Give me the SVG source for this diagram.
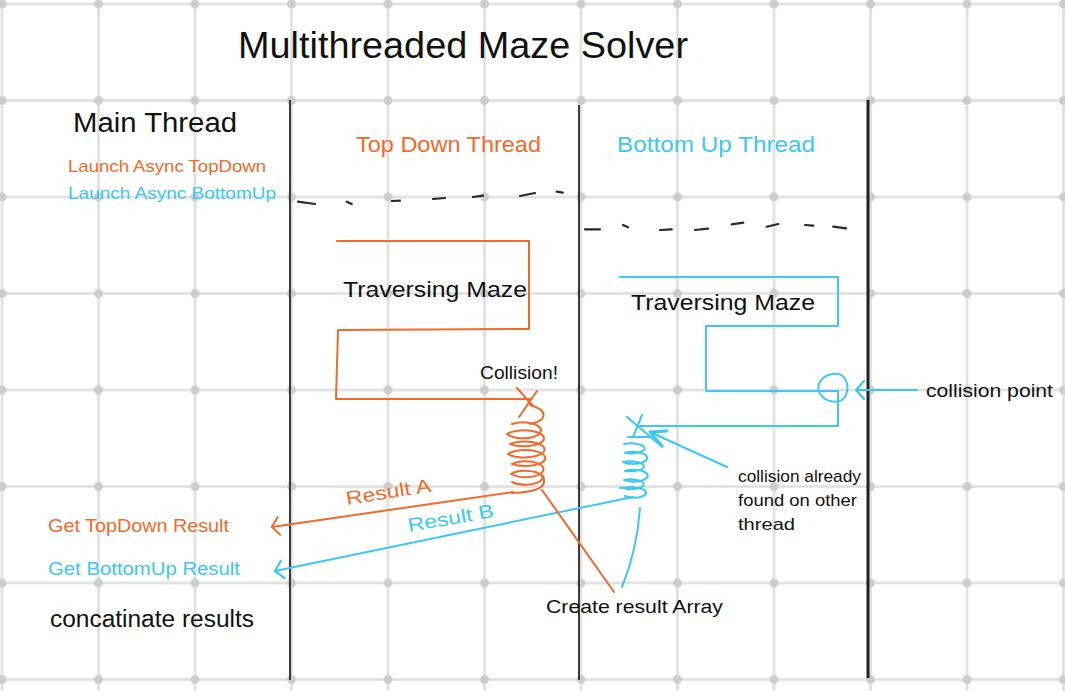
<svg xmlns="http://www.w3.org/2000/svg" width="1065" height="691" viewBox="0 0 1065 691">
<style>
.t{font-family:"Liberation Sans","DejaVu Sans",sans-serif;}
.k{fill:#111;}
.o{fill:#f26a2b;}
.c{fill:#3cc7f5;}
.so{stroke:#f26a2b;fill:none;stroke-width:2;stroke-linecap:round;stroke-linejoin:round;}
.sc{stroke:#3cc7f5;fill:none;stroke-width:2;stroke-linecap:round;stroke-linejoin:round;}
.th{stroke:#3a3a3a;stroke-width:2;}
.dash{stroke:#2a2a2a;stroke-width:2.2;stroke-linecap:round;fill:none;}
</style>
<defs>
<pattern id="grid" patternUnits="userSpaceOnUse" x="-46.25" y="-44.25" width="96.5" height="96.5">
<line x1="48.25" y1="0" x2="48.25" y2="96.5" stroke="#dedede" stroke-width="2.5"/>
<line x1="0" y1="48.25" x2="96.5" y2="48.25" stroke="#dedede" stroke-width="2.5"/>
<circle cx="48.25" cy="48.25" r="4.5" fill="#cdcdcd"/>
</pattern>
<marker id="arrO" markerUnits="userSpaceOnUse" orient="auto" markerWidth="30" markerHeight="30" refX="0" refY="0" viewBox="-20 -15 30 30" overflow="visible">
<path d="M-7,-9 L0,0 L-7,9" fill="none" stroke="#f26a2b" stroke-width="2" stroke-linecap="round" stroke-linejoin="round"/>
</marker>
<marker id="arrC" markerUnits="userSpaceOnUse" orient="auto" markerWidth="30" markerHeight="30" refX="0" refY="0" viewBox="-20 -15 30 30" overflow="visible">
<path d="M-8,-9 L0,0 L-8,9" fill="none" stroke="#3cc7f5" stroke-width="2.2" stroke-linecap="round" stroke-linejoin="round"/>
</marker>
<marker id="arrC3" markerUnits="userSpaceOnUse" orient="auto" markerWidth="40" markerHeight="40" refX="0" refY="0" viewBox="-20 -20 40 40" overflow="visible">
<path d="M-17,-8 L0,0 L-15,8" fill="none" stroke="#3cc7f5" stroke-width="3" stroke-linecap="round" stroke-linejoin="round"/>
</marker>
</defs>
<rect width="1065" height="691" fill="#ffffff"/>
<rect width="1065" height="691" fill="url(#grid)"/>

<g id="lanes">
<line class="th" x1="290" y1="100" x2="290" y2="680"/>
<line class="th" x1="579" y1="105" x2="579" y2="680"/>
<line x1="868" y1="100" x2="868" y2="678" stroke="#222" stroke-width="3"/>
</g>

<g id="title"><text class="t k" x="238" y="58" font-size="36" textLength="450" lengthAdjust="spacingAndGlyphs">Multithreaded Maze Solver</text></g>

<g id="main-thread">
<text class="t k" x="73" y="132" font-size="27" textLength="164" lengthAdjust="spacingAndGlyphs">Main Thread</text>
<text class="t o" x="68" y="172" font-size="17" textLength="198" lengthAdjust="spacingAndGlyphs">Launch Async TopDown</text>
<text class="t c" x="68" y="199" font-size="17" textLength="208" lengthAdjust="spacingAndGlyphs">Launch Async BottomUp</text>
<text class="t o" x="48" y="532" font-size="19" textLength="181" lengthAdjust="spacingAndGlyphs">Get TopDown Result</text>
<text class="t c" x="48" y="575" font-size="19" textLength="192" lengthAdjust="spacingAndGlyphs">Get BottomUp Result</text>
<text class="t k" x="50" y="627" font-size="23" textLength="204" lengthAdjust="spacingAndGlyphs">concatinate results</text>
</g>

<g id="top-down-thread">
<text class="t o" x="356" y="152" font-size="22" textLength="185" lengthAdjust="spacingAndGlyphs">Top Down Thread</text>
<text class="t k" x="343" y="297" font-size="22" textLength="184" lengthAdjust="spacingAndGlyphs">Traversing Maze</text>
<text class="t k" x="480" y="379" font-size="19" textLength="78" lengthAdjust="spacingAndGlyphs">Collision!</text>
</g>

<g id="bottom-up-thread">
<text class="t c" x="617" y="152" font-size="22" textLength="198" lengthAdjust="spacingAndGlyphs">Bottom Up Thread</text>
<text class="t k" x="631" y="310" font-size="22" textLength="184" lengthAdjust="spacingAndGlyphs">Traversing Maze</text>
</g>

<g id="notes">
<text class="t k" x="926" y="397" font-size="19" textLength="127" lengthAdjust="spacingAndGlyphs">collision point</text>
<text class="t k" x="738" y="482" font-size="17" textLength="123" lengthAdjust="spacingAndGlyphs">collision already</text>
<text class="t k" x="738" y="506" font-size="17" textLength="119" lengthAdjust="spacingAndGlyphs">found on other</text>
<text class="t k" x="738" y="530" font-size="17" textLength="57" lengthAdjust="spacingAndGlyphs">thread</text>
<text class="t k" x="546" y="613" font-size="19" textLength="177" lengthAdjust="spacingAndGlyphs">Create result Array</text>
</g>

<g id="connectors">
<!-- dashed sync lines -->
<path class="dash" d="M298,201.7 L315,204 M346.7,201.7 L351.7,204 M391.7,201 L400,200.7 M433,199 L445,198 M473,197 L483,195.7 M520,196 L535,193 M556.7,191.7 L562.7,192.7"/>
<path class="dash" d="M585,229.3 L600,229.3 M623,225 L628,227.3 M660,230 L671.7,229.3 M695,230 L708,228.7 M731.7,224.3 L743.3,222.7 M766.7,226.7 L778.3,224 M805,225 L813.3,225.7 M833.3,226.7 L846,228.3"/>
<!-- orange maze path -->
<path class="so" d="M337,241 L529,241 L529,329 L338,330 L336,399 L530,399"/>
<path class="so" d="M517,388 L533,406 M537,391 L519,417"/>
<path class="so" d="M530,405 C548,410 548,420 530,424 M512,424 a18,8 0 1,1 -5,10 a20,8 0 1,1 3,10 a20,8 0 1,1 -2,10 a20,8 0 1,1 4,10 a18,8 0 1,1 -1,10 a17,7 0 1,1 1,8 M543,476 C548,488 536,492 512,493"/>
<!-- cyan maze path -->
<path class="sc" d="M620,277 L838,277 L838,326 L706,326 L706,391 L838,391 L838,426 L640,426"/>
<path class="sc" d="M833,374 C845,372 850,384 846,395 C842,405 826,403 820,394 C815,385 822,375 833,374"/>
<path class="sc" d="M627,417 L660,445 M642,415 L633,437 M628,437 L650,437"/>
<path class="sc" d="M624,444 a14,5 0 1,1 1,9 a14,6 0 1,1 -2,9 a14,5 0 1,1 2,9 a14,6 0 1,1 -1,9 a13,5 0 1,1 2,9 a12,5 0 1,1 -1,7 M620,488 L633,487"/>
<!-- result arrows -->
<path class="so" d="M513,492 L272,527" marker-end="url(#arrO)"/>
<path class="sc" d="M633,497 L275,571" marker-end="url(#arrC)"/>
<text class="t o" x="347" y="505" font-size="19" textLength="86" lengthAdjust="spacingAndGlyphs" transform="rotate(-9 347 505)">Result A</text>
<text class="t c" x="409" y="532" font-size="19" textLength="87" lengthAdjust="spacingAndGlyphs" transform="rotate(-10 409 532)">Result B</text>
<!-- collision point arrow -->
<path class="sc" d="M917,390 L856,390" stroke-width="3" marker-end="url(#arrC)"/>
<!-- collision already arrow -->
<path class="sc" d="M727,467 L650,432" stroke-width="3.5" marker-end="url(#arrC3)"/>
<!-- create result array lines -->
<path class="so" d="M542,490 L614,592"/>
<path class="sc" d="M640,508 Q637,550 622,587"/>
</g>
</svg>
